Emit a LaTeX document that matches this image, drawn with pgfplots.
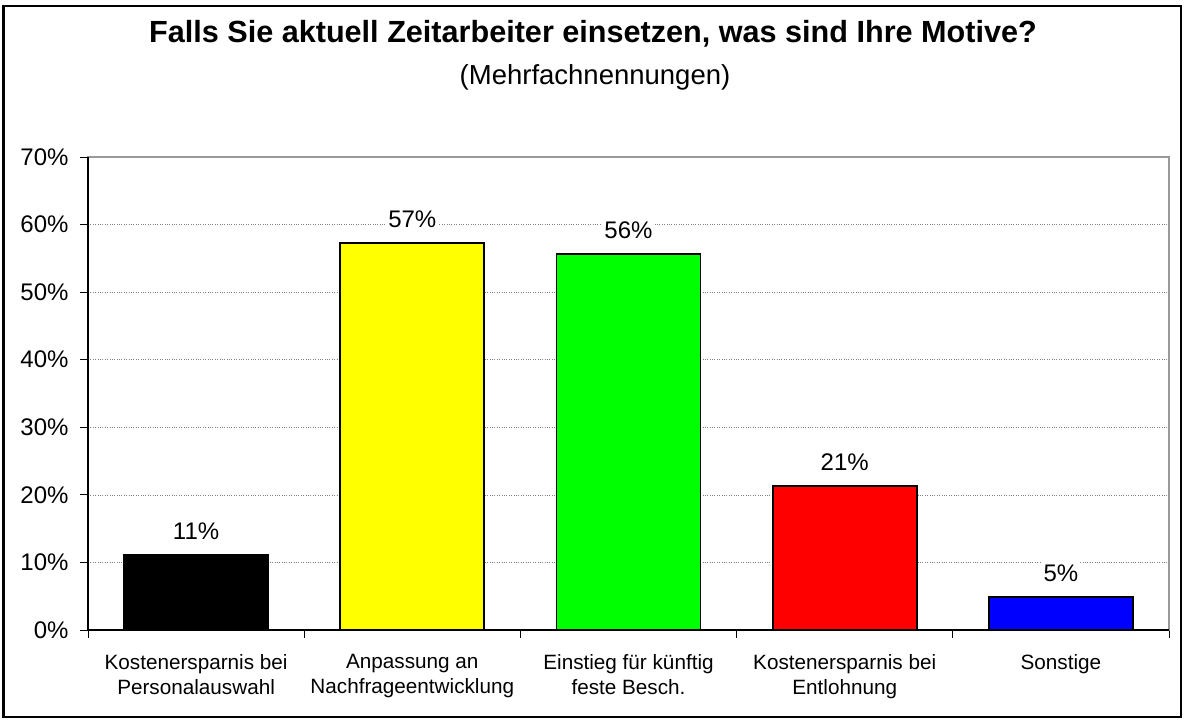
\documentclass[border=0pt]{standalone}
\usepackage{pgfplots}
\pgfplotsset{compat=1.18}
\usepackage{fontspec}
\setmainfont{Liberation Sans}
\newcommand{\fs}[2]{\fontsize{#1bp}{#2bp}\selectfont}
\definecolor{pyellow}{RGB}{255,255,0}
\definecolor{pgreen}{RGB}{0,255,0}
\definecolor{pred}{RGB}{255,0,0}
\definecolor{pblue}{RGB}{0,0,255}
\begin{document}
\begin{tikzpicture}[x=1bp,y=1bp]
\useasboundingbox (0,0) rectangle (1184,720);
\draw[line width=2.5bp] (3.5,3) rectangle (1181,714);
\node[anchor=base,font=\fs{30.6}{30.6}\bfseries] at (593,677) {Falls Sie aktuell Zeitarbeiter einsetzen, was sind Ihre Motive?};
\node[anchor=base,font=\fs{27.5}{27.5}] at (595,635) {(Mehrfachnennungen)};
\begin{axis}[
  at={(88bp,90bp)}, anchor=south west,
  scale only axis, width=1081bp, height=473bp,
  ybar, bar width=0.666,
  every axis plot/.append style={bar shift=0pt, draw=black, line width=1.8bp},
  xmin=-0.5, xmax=4.5, ymin=0, ymax=70,
  xtick={0,1,2,3,4},
  xticklabels={{Kostenersparnis bei\\Personalauswahl},{Anpassung an\\Nachfrageentwicklung},{Einstieg für künftig\\feste Besch.},{Kostenersparnis bei\\Entlohnung},{Sonstige}},
  major x tick style={draw=none},
  minor xtick={-0.5,0.5,1.5,2.5,3.5,4.5},
  minor tick length=8bp,
  tick align=outside,
  xtick pos=left, ytick pos=left,
  major tick length=8bp,
  tick style={black, line width=0.8bp},
  xticklabel style={align=center, font=\fs{20.7}{25}, yshift=-13bp},
  ytick={0,10,...,70},
  yticklabel={\pgfmathprintnumber[assume math mode=true]{\tick}\%},
  yticklabel style={font=\fs{24}{24}, xshift=-8bp},
  ymajorgrids, grid style={gray, dotted, line width=0.7bp},
  axis line style={gray!80, line width=1.2bp},
  point meta=explicit symbolic,
  nodes near coords,
  every node near coord/.append style={font=\fs{24}{24}, fill=white, inner sep=2bp, anchor=center, yshift=24bp},
  clip=false,
]
\addplot[fill=black] coordinates {(0,11.1) [11\%]};
\addplot[fill=pyellow] coordinates {(1,57.3) [57\%]};
\addplot[fill=pgreen] coordinates {(2,55.6) [56\%]};
\addplot[fill=pred] coordinates {(3,21.3) [21\%]};
\addplot[fill=pblue] coordinates {(4,4.9) [5\%]};
\draw[black, line width=1.2bp] (rel axis cs:0,1) -- (rel axis cs:0,0) -- (rel axis cs:1,0);
\end{axis}
\end{tikzpicture}
\end{document}
